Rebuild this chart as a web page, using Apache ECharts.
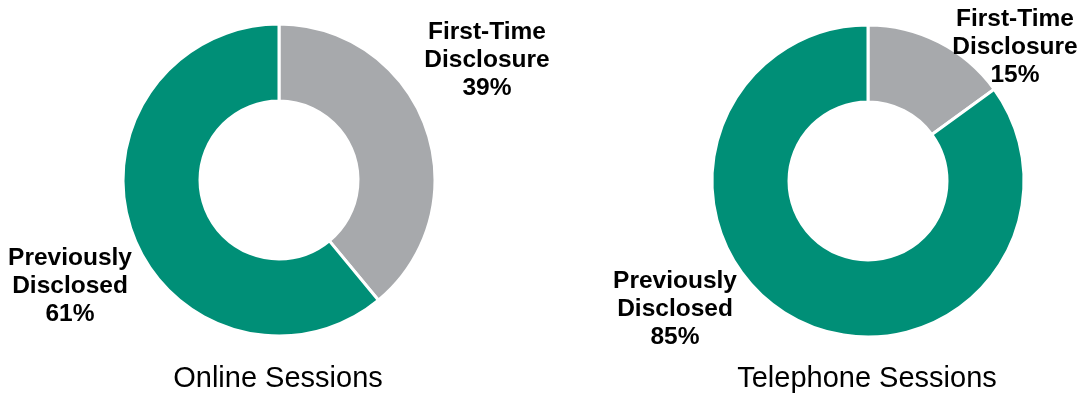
<!DOCTYPE html>
<html>
<head>
<meta charset="utf-8">
<script src="https://cdn.jsdelivr.net/npm/echarts@6/dist/echarts.min.js"></script>
<style>
html,body{margin:0;padding:0;background:#fff;}
#chart{width:1079px;height:396px;}
</style>
</head>
<body>
<div id="chart"></div>
<script>
const categories = ['First-Time\nDisclosure', 'Previously\nDisclosed'];
const onlineValues = [39, 61];
const telephoneValues = [15, 85];
const panelTitles = ['Online Sessions', 'Telephone Sessions'];

const colors = ['#A7A9AC', '#008F77'];
const chart = echarts.init(document.getElementById('chart'));

const labelPos = [
  [[487, 60], [70, 286]],
  [[1015, 47], [675, 309]]
];

function makeSeries(values, center, idx) {
  return {
    type: 'pie',
    center: center,
    radius: [79, 156],
    startAngle: 90,
    clockwise: true,
    silent: true,
    itemStyle: { borderColor: '#fff', borderWidth: 3 },
    labelLine: { show: false },
    label: {
      show: true,
      position: 'outside',
      overflow: 'none',
      width: 200,
      formatter: p => p.name + '\n' + p.value + '%',
      fontFamily: 'Liberation Sans, Arial, sans-serif',
      fontWeight: 'bold',
      fontSize: 24.5,
      lineHeight: 28,
      color: '#000',
      align: 'center'
    },
    labelLayout: function (params) {
      const pos = labelPos[idx][params.dataIndex];
      return { x: pos[0], y: pos[1], align: 'center', verticalAlign: 'middle' };
    },
    data: categories.map((c, i) => ({ name: c, value: values[i], itemStyle: { color: colors[i] } }))
  };
}

chart.setOption({
  animation: false,
  graphic: [
    { type: 'text', x: 278, y: 379, style: { text: panelTitles[0], fontFamily: 'Liberation Sans, Arial, sans-serif', fontSize: 29, fill: '#000', textAlign: 'center', textVerticalAlign: 'middle' } },
    { type: 'text', x: 867, y: 379, style: { text: panelTitles[1], fontFamily: 'Liberation Sans, Arial, sans-serif', fontSize: 29, fill: '#000', textAlign: 'center', textVerticalAlign: 'middle' } }
  ],
  series: [
    makeSeries(onlineValues, [279, 180], 0),
    makeSeries(telephoneValues, [868, 181], 1)
  ]
});
</script>
</body>
</html>
